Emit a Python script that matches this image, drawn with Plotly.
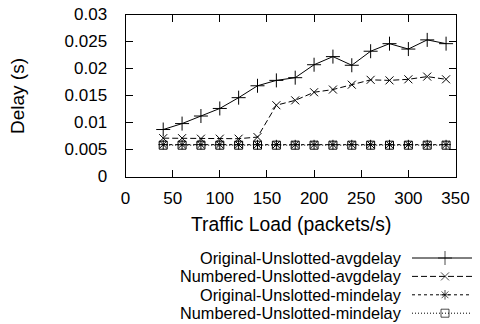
import plotly.graph_objects as go

# ---- data ----
traffic_load = [40, 60, 80, 100, 120, 140, 160, 180, 200, 220, 240, 260, 280, 300, 320, 340]
orig_avg = [0.0087, 0.0098, 0.0112, 0.0126, 0.0146, 0.0168, 0.0178, 0.0183, 0.0207, 0.0222,
            0.0206, 0.0232, 0.0246, 0.0236, 0.0253, 0.0246]
numb_avg = [0.0071, 0.0071, 0.0070, 0.0070, 0.0070, 0.0073, 0.0132, 0.0141, 0.0156, 0.0161,
            0.0170, 0.0179, 0.0178, 0.0180, 0.0185, 0.0180]
orig_min = [0.0059] * 16
numb_min = [0.0058] * 16
series_names = ["Original-Unslotted-avgdelay", "Numbered-Unslotted-avgdelay",
                "Original-Unslotted-mindelay", "Numbered-Unslotted-mindelay"]
y_ticks = [0, 0.005, 0.01, 0.015, 0.02, 0.025, 0.03]
y_tick_text = ["0", "0.005", "0.01", "0.015", "0.02", "0.025", "0.03"]
x_ticks = [0, 50, 100, 150, 200, 250, 300, 350]
x_title = "Traffic Load (packets/s)"
y_title = "Delay (s)"

FONT = "Liberation Sans, Arial, sans-serif"
W, H = 480, 324
OFF = 8          # page body margin: figure is drawn at page offset (8, 8)
ML, MT = 117, 6  # figure-space margins
PW, PH = W - ML, H - MT  # paper size


def px_x(p):
    """page x pixel -> paper fraction"""
    return (p - OFF - ML) / PW


def px_y(p):
    """page y pixel -> paper fraction"""
    return (H - (p - OFF)) / PH


styles = [
    dict(dash="solid", symbol="cross-thin-open", size=10),
    dict(dash="6px,3px", symbol="x-thin-open", size=8),
    dict(dash="3px,3px", symbol="asterisk-open", size=8),
    dict(dash="1px,2px", symbol="square-open", size=8),
]
values = [orig_avg, numb_avg, orig_min, numb_min]

fig = go.Figure()
for name, vals, st in zip(series_names, values, styles):
    fig.add_trace(go.Scatter(
        x=traffic_load, y=vals, name=name, mode="lines+markers",
        line=dict(color="black", width=1, dash=st["dash"]),
        marker=dict(symbol=st["symbol"], size=st["size"], color="black",
                    line=dict(color="black", width=1)),
        xaxis="x", yaxis="y", showlegend=False, cliponaxis=False,
    ))

# ---- custom legend (text left, sample right) on a page-pixel-scaled helper axis ----
row_y = [258, 276.4, 294.8, 313.2]
for name, st, ry in zip(series_names, styles, row_y):
    fig.add_trace(go.Scatter(
        x=[412, 445, 477], y=[ry, ry, ry], mode="lines+markers",
        line=dict(color="black", width=1, dash=st["dash"]),
        marker=dict(symbol=st["symbol"], size=[0, st["size"], 0], color="black",
                    line=dict(color="black", width=1)),
        xaxis="x2", yaxis="y2", showlegend=False, hoverinfo="skip", cliponaxis=False,
    ))
    fig.add_annotation(x=403, y=ry, xref="x2", yref="y2", text=name, showarrow=False,
                       xanchor="right", yanchor="middle", borderpad=0,
                       font=dict(family=FONT, size=16.3, color="black"))

# axis titles
fig.add_annotation(x=px_x(290.5), y=px_y(224), xref="paper", yref="paper", text=x_title,
                   showarrow=False, xanchor="center", yanchor="middle",
                   font=dict(family=FONT, size=19.3, color="black"))
fig.add_annotation(x=px_x(17), y=px_y(96), xref="paper", yref="paper", text=y_title,
                   showarrow=False, xanchor="center", yanchor="middle", textangle=-90,
                   font=dict(family=FONT, size=19, color="black"))

axis_common = dict(showgrid=False, zeroline=False, showline=True, linecolor="black",
                   linewidth=1, mirror="allticks", ticks="inside", ticklen=7,
                   tickcolor="black", tickwidth=1, automargin=False,
                   ticklabeloverflow="allow",
                   tickfont=dict(family=FONT, size=17, color="black"))

fig.update_layout(
    width=W, height=H,
    margin=dict(l=ML, r=0, t=MT, b=0, pad=0, autoexpand=False),
    paper_bgcolor="white", plot_bgcolor="white",
    showlegend=False,
    font=dict(family=FONT, size=16, color="black"),
    xaxis=dict(domain=[px_x(125.5), px_x(455.5)], range=[0, 350], tickvals=x_ticks,
               ticklabelstandoff=6, anchor="y", **axis_common),
    yaxis=dict(domain=[px_y(176.5), px_y(14.5)], range=[0, 0.03], tickvals=y_ticks,
               ticktext=y_tick_text,
               ticklabelstandoff=14, anchor="x", **axis_common),
    xaxis2=dict(domain=[px_x(180), px_x(480)], range=[180, 480], visible=False,
                anchor="y2", fixedrange=True),
    yaxis2=dict(domain=[px_y(324), px_y(245)], range=[324, 245], visible=False,
                anchor="x2", fixedrange=True),
)

fig.write_html("out.html")
